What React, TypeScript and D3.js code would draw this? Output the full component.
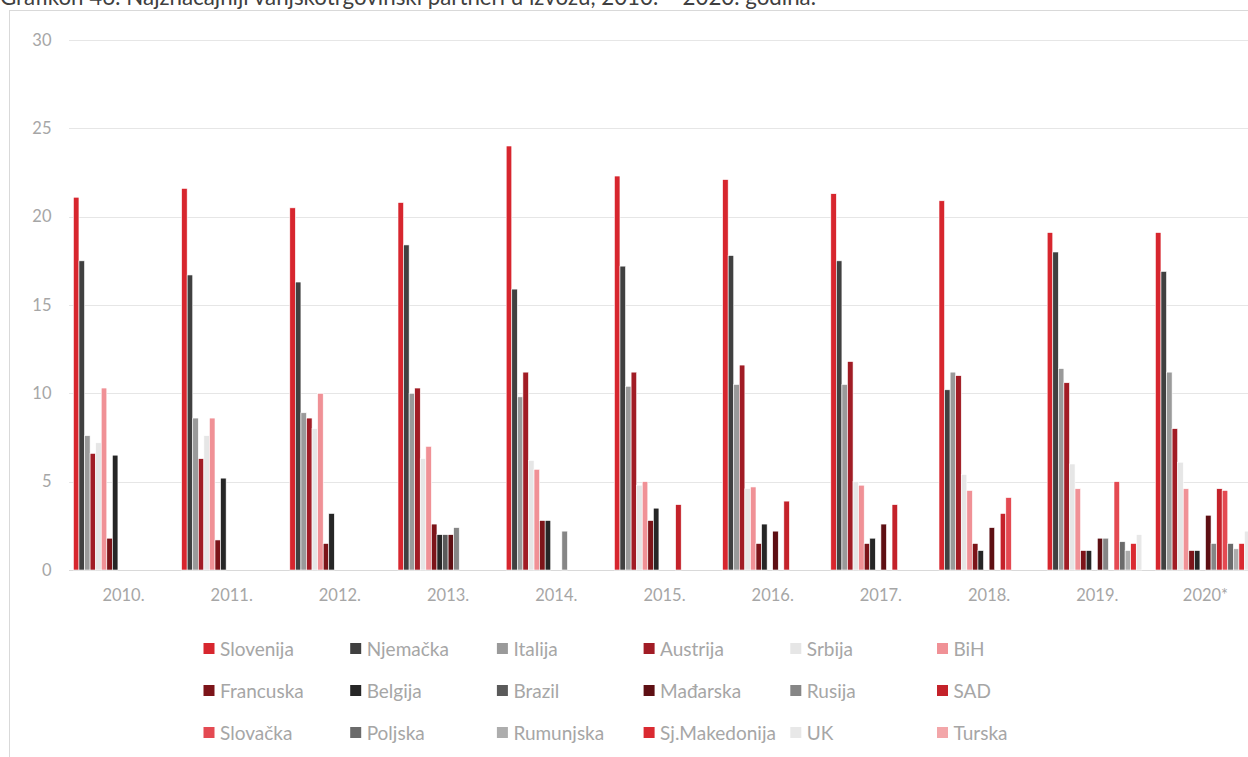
import React from "react";
import * as d3 from "d3";

const title = "Grafikon 46: Najznačajniji vanjskotrgovinski partneri u izvozu, 2010. – 2020. godina.";
const years = ["2010.", "2011.", "2012.", "2013.", "2014.", "2015.", "2016.", "2017.", "2018.", "2019.", "2020*"];
const yTicks = [0, 5, 10, 15, 20, 25, 30];

const seriesNames = ["Slovenija", "Njemačka", "Italija", "Austrija", "Srbija", "BiH", "Francuska", "Belgija", "Brazil", "Mađarska", "Rusija", "SAD", "Slovačka", "Poljska", "Rumunjska", "Sj.Makedonija", "UK", "Turska"];
const seriesColors = ["#d7262e", "#404040", "#9a9a9a", "#a11c25", "#e6e6e6", "#f09196", "#7c1419", "#262626", "#5a5a5a", "#5e0f13", "#868686", "#c4222a", "#e44a52", "#6b6b6b", "#adadad", "#da2a31", "#e8e8e8", "#f3a6a9"];

type V = number | null;
const slovenija: V[] = [21.1, 21.6, 20.5, 20.8, 24.0, 22.3, 22.1, 21.3, 20.9, 19.1, 19.1];
const njemacka: V[] = [17.5, 16.7, 16.3, 18.4, 15.9, 17.2, 17.8, 17.5, 10.2, 18.0, 16.9];
const italija: V[] = [7.6, 8.6, 8.9, 10.0, 9.8, 10.4, 10.5, 10.5, 11.2, 11.4, 11.2];
const austrija: V[] = [6.6, 6.3, 8.6, 10.3, 11.2, 11.2, 11.6, 11.8, 11.0, 10.6, 8.0];
const srbija: V[] = [7.2, 7.6, 8.0, 6.3, 6.2, 4.8, 4.6, 5.0, 5.4, 6.0, 6.1];
const bih: V[] = [10.3, 8.6, 10.0, 7.0, 5.7, 5.0, 4.7, 4.8, 4.5, 4.6, 4.6];
const francuska: V[] = [1.8, 1.7, 1.5, 2.6, 2.8, 2.8, 1.5, 1.5, 1.5, 1.1, 1.1];
const belgija: V[] = [6.5, 5.2, 3.2, 2.0, 2.8, 3.5, 2.6, 1.8, 1.1, 1.1, 1.1];
const brazil: V[] = [null, null, null, 2.0, null, null, null, null, null, null, null];
const madjarska: V[] = [null, null, null, 2.0, null, null, 2.2, 2.6, 2.4, 1.8, 3.1];
const rusija: V[] = [null, null, null, 2.4, 2.2, null, null, null, null, 1.8, 1.5];
const sad: V[] = [null, null, null, null, null, 3.7, 3.9, 3.7, 3.2, null, 4.6];
const slovacka: V[] = [null, null, null, null, null, null, null, null, 4.1, 5.0, 4.5];
const poljska: V[] = [null, null, null, null, null, null, null, null, null, 1.6, 1.5];
const rumunjska: V[] = [null, null, null, null, null, null, null, null, null, 1.1, 1.2];
const sjMakedonija: V[] = [null, null, null, null, null, null, null, null, null, 1.5, 1.5];
const uk: V[] = [null, null, null, null, null, null, null, null, null, 2.0, 2.2];
const turska: V[] = [null, null, null, null, null, null, null, null, null, null, null];

const seriesValues: V[][] = [slovenija, njemacka, italija, austrija, srbija, bih, francuska, belgija, brazil, madjarska, rusija, sad, slovacka, poljska, rumunjska, sjMakedonija, uk, turska];

export default function App() {
  const W = 1248, H = 757;
  const font = "Lato, 'Open Sans', sans-serif";
  const x0 = d3.scaleBand<string>().domain(years).range([69.4, 69.4 + 11 * 108.2]).padding(0);
  const bw = x0.bandwidth();
  const x1 = d3.scaleBand<string>().domain(seriesNames).range([4, bw - 4]).padding(0);
  const y = d3.scaleLinear().domain([0, 30]).range([570, 40]);
  const axisColor = "#a6a6a6";

  return (
    <svg width={W} height={H} style={{ position: "absolute", left: 0, top: 0, background: "#fff" }} fontFamily={font}>
      <rect x={0} y={0} width={W} height={H} fill="#fff" />
      <text x={0} y={4.5} fontSize={22.3} fill="#404040">{title}</text>
      <rect x={9.5} y={10.5} width={W + 20} height={H + 20} fill="none" stroke="#d9d9d9" strokeWidth={1} />
      {yTicks.map((t) => (
        <g key={t}>
          <line x1={69} x2={W} y1={Math.round(y(t)) + 0.5} y2={Math.round(y(t)) + 0.5} stroke={t === 0 ? "#d9d9d9" : "#e6e6e6"} strokeWidth={1} />
          <text x={51.5} y={y(t)} dy="0.35em" textAnchor="end" fontSize={16.5} fill={axisColor}>{t}</text>
        </g>
      ))}
      {years.map((yr, i) => (
        <g key={yr} transform={`translate(${x0(yr)},0)`}>
          {seriesNames.map((s, j) => {
            const v = seriesValues[j][i];
            if (v == null) return null;
            return (
              <rect key={s} x={x1(s)} y={y(v)} width={x1.bandwidth()} height={y(0) - y(v)}
                fill={seriesColors[j]} stroke="#ffffff" strokeWidth={0.6} />
            );
          })}
          <text x={bw / 2} y={601} textAnchor="middle" fontSize={16.5} fill={axisColor}>{yr}</text>
        </g>
      ))}
      {seriesNames.map((s, j) => {
        const col = j % 6, row = Math.floor(j / 6);
        const lx = 203.5 + col * 146.7;
        const ly = 648.5 + row * 42;
        return (
          <g key={s}>
            <rect x={lx} y={ly - 5.5} width={11} height={11} fill={seriesColors[j]} />
            <text x={lx + 16.5} y={ly + 7} fontSize={19} fill={axisColor}>{s}</text>
          </g>
        );
      })}
    </svg>
  );
}
